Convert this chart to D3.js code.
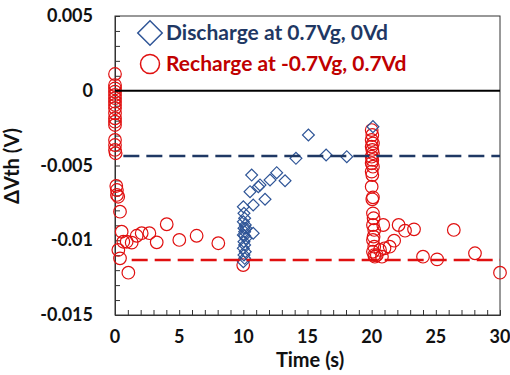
<!DOCTYPE html>
<html><head><meta charset="utf-8">
<script src="https://cdn.jsdelivr.net/npm/d3@7"></script>
<style>body{margin:0;background:#fff}svg{display:block}text{font-family:Lato,"Open Sans",sans-serif;font-weight:bold}</style>
</head><body><svg id="c" width="510" height="375"></svg>
<script>
// ---- data ----
const xTickValues=[0,5,10,15,20,25,30];
const xTickLabels=["0","5","10","15","20","25","30"];
const yTickValues=[0.005,0,-0.005,-0.01,-0.015];
const yTickLabels=["0.005","0","-0.005","-0.01","-0.015"];
const seriesNames=["Discharge at 0.7Vg, 0Vd","Recharge at -0.7Vg, 0.7Vd"];
const xTitle="Time (s)";
const yTitle="ΔVth (V)";

const dischargeT=[10.0,10.05,10.1,10.0,10.15,10.05,10.1,10.0,10.2,10.05,10.1,10.0,10.15,10.05,10.1,10.0,10.2,10.1,
  10.52,10.77,10.77,10.65,11.17,11.3,11.69,12.08,12.6,13.25,14.1,15.07,16.45,18.06,20.1];
const dischargeV=[-0.00776,-0.0082,-0.00853,-0.00876,-0.00898,-0.0092,-0.00943,-0.00965,-0.00987,-0.0101,-0.01032,-0.01054,-0.01077,-0.01099,-0.01121,-0.01143,-0.0092,-0.0097,
  -0.00675,-0.00764,-0.00953,-0.00564,-0.00642,-0.0063,-0.00726,-0.00597,-0.00548,-0.00602,-0.00452,-0.00296,-0.0043,-0.00441,-0.0024];

const rechargeT=[0,0,0,0,0,0,0,0,0,0,0,0,0,0,0,0,0.05,
  0.1,0.15,0.15,0.25,0.39,0.52,0.65,0.26,0.39,1.04,0.91,1.3,1.69,2.08,2.68,3.25,4.03,5.01,6.36,8.05,9.99,
  20.0,20.05,20.0,20.1,20.0,20.05,20.1,20.0,20.05,20.0,20.1,20.0,20.05,20.0,20.1,20.05,20.1,20.15,20.1,20.2,20.15,20.1,20.2,20.1,20.2,20.25,
  20.9,22.1,22.6,23.3,21.75,21.4,21.0,20.65,20.4,20.8,24.0,25.1,26.4,28.05,30.0];
const rechargeV=[0.00112,0.00038,0.00016,-0.00006,-0.00028,-0.0005,-0.00073,-0.00095,-0.00117,-0.00151,-0.00184,-0.00207,-0.00229,-0.00329,-0.00363,-0.00396,-0.00418,
  -0.00637,-0.00664,-0.00697,-0.00709,-0.00809,-0.00943,-0.0101,-0.01065,-0.01121,-0.01217,-0.0101,-0.01016,-0.0097,-0.00953,-0.00953,-0.01014,-0.00893,-0.00998,-0.0097,-0.0102,-0.01166,
  -0.00263,-0.00296,-0.00329,-0.00352,-0.00374,-0.00396,-0.00418,-0.00441,-0.00463,-0.00485,-0.00508,-0.00541,-0.00564,-0.00642,-0.00713,-0.00726,-0.0082,-0.00853,-0.00898,-0.00931,-0.00976,-0.00998,-0.01043,-0.01077,-0.01099,-0.0111,
  -0.00898,-0.00898,-0.00936,-0.00927,-0.01003,-0.01043,-0.01054,-0.01065,-0.01099,-0.0111,-0.0111,-0.01128,-0.00931,-0.01087,-0.01217];

const zeroLine=[0,30,0];            // [x0,x1,value]
const dischargeLevel=[0.65,30,-0.00436];
const rechargeLevel=[1.3,30,-0.01132];

// ---- drawing ----
const svg=d3.select("#c");
const L=115,R=500,T=16,B=315;
const x=d3.scaleLinear().domain([0,30]).range([L,R]);
const y=d3.scaleLinear().domain([-0.015,0.005]).range([B,T]);
const blue="#2F5597", navy="#1F3864", red="#E01010", dred="#C00000";

// frame
svg.append("rect").attr("x",L).attr("y",T).attr("width",R-L).attr("height",B-T)
  .attr("fill","none").attr("stroke","#333").attr("stroke-width",1);

// minor ticks (inside)
const xAxis=d3.axisBottom(x).tickValues(d3.range(0,31)).tickSize(-5).tickFormat("");
svg.append("g").attr("transform",`translate(0,${B})`).call(xAxis)
  .call(g=>{g.select(".domain").attr("stroke","#333");g.selectAll("line").attr("stroke","#333");});
const yAxis=d3.axisLeft(y).tickValues(d3.range(-15,6).map(d=>d/1000)).tickSize(-5).tickFormat("");
svg.append("g").attr("transform",`translate(${L},0)`).call(yAxis)
  .call(g=>{g.select(".domain").attr("stroke","#333");g.selectAll("line").attr("stroke","#333");});

// tick labels
svg.append("g").selectAll("text").data(xTickValues).join("text")
  .attr("x",d=>x(d)).attr("y",343).attr("text-anchor","middle").attr("font-size",18).attr("fill","#111")
  .text((d,i)=>xTickLabels[i]);
svg.append("g").selectAll("text").data(yTickValues).join("text")
  .attr("x",93).attr("y",d=>y(d)+6).attr("text-anchor","end").attr("font-size",18).attr("fill","#111")
  .text((d,i)=>yTickLabels[i]);

// titles
svg.append("text").attr("x",310).attr("y",367).attr("text-anchor","middle").attr("font-size",20).attr("fill","#111").text(xTitle);
svg.append("text").attr("transform",`translate(19,166) rotate(-90)`).attr("text-anchor","middle").attr("font-size",20).attr("fill","#111").text(yTitle);

// reference lines
const refs=[{d:zeroLine,c:"#000",w:2.2,dash:null},{d:dischargeLevel,c:navy,w:2.4,dash:"16,7"},{d:rechargeLevel,c:red,w:2.4,dash:"16,7"}];

// points
const diamond=d3.symbol().type(d3.symbolSquare).size(70);
svg.append("g").selectAll("circle").data(rechargeT).join("circle")
  .attr("cx",d=>x(d)).attr("cy",(d,i)=>y(rechargeV[i])).attr("r",6.3)
  .attr("fill","none").attr("stroke",red).attr("stroke-width",1.2);
svg.append("g").selectAll("path").data(dischargeT).join("path")
  .attr("d",diamond).attr("transform",(d,i)=>`translate(${x(d)},${y(dischargeV[i])}) rotate(45)`)
  .attr("fill","none").attr("stroke",blue).attr("stroke-width",1.2);

svg.append("g").selectAll("line").data(refs).join("line")
  .attr("x1",r=>x(r.d[0])).attr("x2",r=>x(r.d[1])).attr("y1",r=>y(r.d[2])).attr("y2",r=>y(r.d[2]))
  .attr("stroke",r=>r.c).attr("stroke-width",r=>r.w).attr("stroke-dasharray",r=>r.dash);

// legend
svg.append("rect").attr("x",128).attr("y",18).attr("width",300).attr("height",62).attr("fill","#fff");
svg.append("path").attr("d",d3.symbol().type(d3.symbolSquare).size(300)).attr("transform","translate(150,33) rotate(45)")
  .attr("fill","none").attr("stroke",blue).attr("stroke-width",1.5);
svg.append("circle").attr("cx",150).attr("cy",64).attr("r",9.5).attr("fill","none").attr("stroke",red).attr("stroke-width",1.5);
svg.append("text").attr("x",166).attr("y",40).attr("font-size",21).attr("fill",navy).text(seriesNames[0]);
svg.append("text").attr("x",166).attr("y",71).attr("font-size",21).attr("fill",dred).text(seriesNames[1]);
</script></body></html>
